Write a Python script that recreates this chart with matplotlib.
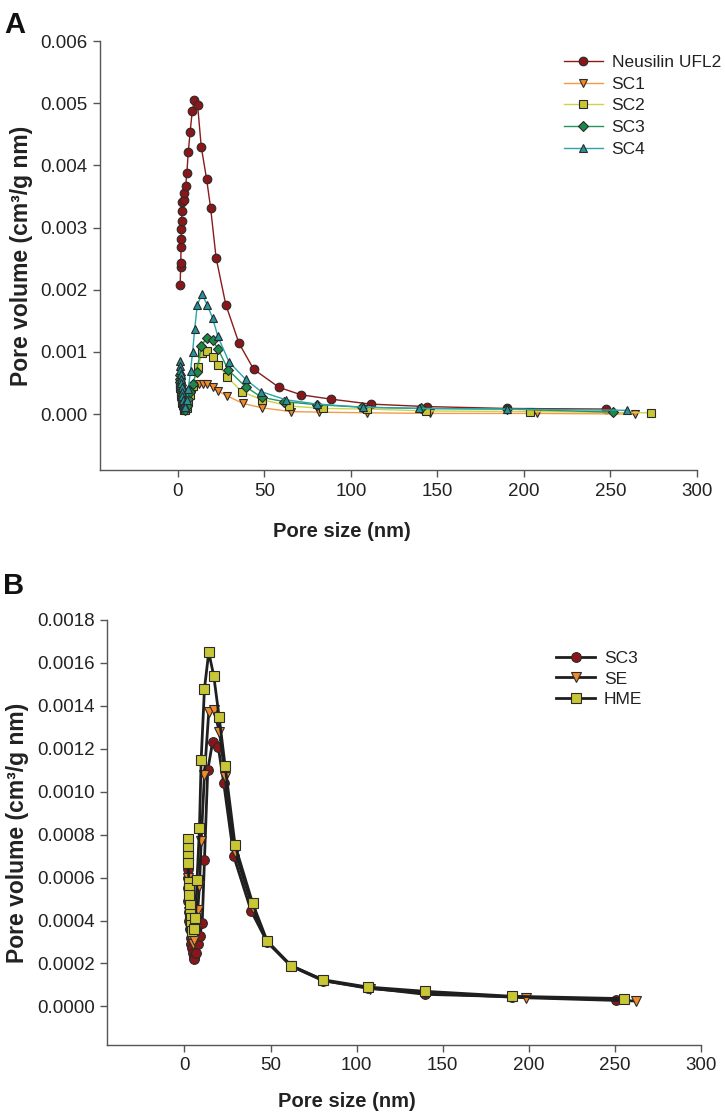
import matplotlib
matplotlib.use("Agg")
import matplotlib.pyplot as plt
from matplotlib.ticker import FormatStrFormatter

plt.rcParams["font.family"] = ["Liberation Sans", "DejaVu Sans"]
plt.rcParams["text.color"] = "#222222"
plt.rcParams["axes.labelcolor"] = "#222222"
plt.rcParams["xtick.color"] = "#555555"
plt.rcParams["ytick.color"] = "#555555"
plt.rcParams["xtick.labelcolor"] = "#222222"
plt.rcParams["ytick.labelcolor"] = "#222222"

# ---- panel A: pore size distributions (nm, cm3/g nm) ----
NEU_X = [1.3, 1.6, 1.7, 1.8, 1.9, 2.0, 2.1, 2.3, 2.5, 3.3, 3.6, 4.5, 5.2, 6.0, 7.1, 8.3,
         9.4, 11.4, 13.5, 16.6, 18.9, 22.1, 27.7, 35.3, 43.8, 58.4, 71.1, 88.4, 111.4,
         143.8, 190.0, 247.4]
NEU_Y = [0.00207, 0.00236, 0.00243, 0.00268, 0.00281, 0.00298, 0.00310, 0.00326, 0.00341,
         0.00345, 0.00356, 0.00367, 0.00388, 0.00421, 0.00454, 0.00487, 0.00505, 0.00497,
         0.00430, 0.00378, 0.00332, 0.00251, 0.00176, 0.00114, 0.00072, 0.00043, 0.00031,
         0.00024, 0.00016, 0.00012, 0.00009, 0.00008]

SC1_X = [1.3, 1.4, 1.5, 1.6, 1.7, 1.9, 2.1, 2.3, 2.6, 2.9, 3.3, 3.8, 4.4, 5.1, 6.0, 7.1,
         8.5, 9.7, 12.0, 14.3, 16.9, 20.1, 23.3, 28.5, 37.7, 48.7, 65.1, 81.7, 109.1, 145.7,
         207.3, 264.2]
SC1_Y = [0.00045, 0.00042, 0.00039, 0.00036, 0.00033, 0.00030, 0.00026, 0.00022, 0.00018,
         0.00014, 0.00010, 0.00007, 0.00006, 0.00009, 0.00017, 0.00027, 0.00037, 0.00045,
         0.00049, 0.00049, 0.00048, 0.00043, 0.00037, 0.00029, 0.00017, 0.00010, 0.00004,
         0.00003, 0.00002, 0.00001, 0.00001, 0.00000]

SC2_X = [1.3, 1.4, 1.5, 1.6, 1.7, 1.9, 2.1, 2.3, 2.6, 2.9, 3.3, 3.8, 4.4, 5.1, 6.0, 7.1,
         8.5, 11.4, 14.1, 17.0, 20.1, 23.3, 28.5, 36.8, 48.7, 64.3, 83.6, 109.4, 143.4,
         203.5, 273.2]
SC2_Y = [0.00050, 0.00046, 0.00042, 0.00038, 0.00034, 0.00030, 0.00026, 0.00022, 0.00018,
         0.00014, 0.00010, 0.00007, 0.00006, 0.00010, 0.00019, 0.00030, 0.00045, 0.00075,
         0.00098, 0.00102, 0.00092, 0.00079, 0.00060, 0.00036, 0.00023, 0.00013, 0.00009,
         0.00008, 0.00005, 0.00004, 0.00002]

SC3_X = [1.3, 1.4, 1.5, 1.6, 1.7, 1.9, 2.1, 2.3, 2.6, 2.9, 3.3, 3.8, 4.4, 5.1, 6.0, 7.1,
         8.5, 10.8, 13.6, 16.6, 20.1, 23.3, 29.1, 39.1, 48.4, 61.3, 80.5, 106.2, 140.3,
         190.3, 251.3]
SC3_Y = [0.00062, 0.00057, 0.00052, 0.00047, 0.00042, 0.00037, 0.00032, 0.00027, 0.00022,
         0.00017, 0.00012, 0.00008, 0.00007, 0.00013, 0.00024, 0.00036, 0.00048, 0.00068,
         0.00109, 0.00123, 0.00119, 0.00104, 0.00071, 0.00044, 0.00027, 0.00020, 0.00015,
         0.00011, 0.00009, 0.00008, 0.00003]

SC4_X = [1.3, 1.4, 1.5, 1.6, 1.7, 1.9, 2.1, 2.3, 2.6, 2.9, 3.3, 3.8, 4.4, 5.1, 6.0, 7.3,
         8.5, 9.7, 11.2, 13.9, 16.9, 20.1, 23.1, 29.5, 39.1, 48.2, 62.3, 80.5, 107.1, 139.5,
         190.0, 259.7]
SC4_Y = [0.00085, 0.00078, 0.00071, 0.00064, 0.00057, 0.00050, 0.00043, 0.00036, 0.00029,
         0.00022, 0.00016, 0.00011, 0.00012, 0.00022, 0.00040, 0.00069, 0.00099, 0.00136,
         0.00175, 0.00193, 0.00176, 0.00154, 0.00125, 0.00084, 0.00056, 0.00036, 0.00023,
         0.00016, 0.00011, 0.00009, 0.00008, 0.00006]

# ---- panel B ----
B_SC3_X = [1.9, 2.0, 2.1, 2.3, 2.6, 2.9, 3.2, 3.5, 3.9, 4.5, 4.8, 5.4, 5.8, 6.8, 8.0, 8.9,
           10.3, 11.6, 13.5, 16.3, 19.6, 22.8, 28.6, 38.7, 48.0, 61.9, 80.5, 106.4, 139.9,
           190.2, 250.7]
B_SC3_Y = [0.00064, 0.00060, 0.00055, 0.00049, 0.00044, 0.00040, 0.00036, 0.00032, 0.00029,
           0.00027, 0.00025, 0.00023, 0.00022, 0.00025, 0.00029, 0.00033, 0.00039, 0.00068,
           0.00110, 0.00123, 0.00121, 0.00104, 0.00070, 0.000445, 0.00030, 0.00019, 0.00012,
           0.000087, 0.000056, 0.000045, 0.000031]

SE_X = [2.0, 2.1, 2.2, 2.4, 2.6, 2.8, 3.0, 3.3, 3.7, 4.2, 4.8, 5.6, 6.6, 7.7, 8.7, 9.7,
        11.6, 14.1, 17.0, 20.3, 23.6, 29.4, 39.6, 48.0, 61.9, 80.5, 107.5, 139.9, 198.3, 262.2]
SE_Y = [0.00072, 0.00066, 0.00060, 0.00054, 0.00048, 0.00044, 0.00040, 0.00036, 0.00033,
        0.00031, 0.00029, 0.00031, 0.00036, 0.00045, 0.00056, 0.00077, 0.00108, 0.00137,
        0.00138, 0.00128, 0.00107, 0.00072, 0.00046, 0.00030, 0.000187, 0.00012, 0.000083,
        0.000062, 0.00004, 0.000025]

HME_X = [2.0, 2.1, 2.2, 2.3, 2.5, 2.6, 2.8, 3.0, 3.3, 3.6, 4.0, 4.6, 5.5, 6.4, 7.3, 8.7,
         9.7, 11.6, 14.1, 17.0, 20.1, 23.6, 29.4, 39.6, 48.0, 61.9, 80.5, 106.4, 139.9,
         190.2, 255.5]
HME_Y = [0.00078, 0.00074, 0.00070, 0.00067, 0.00058, 0.00055, 0.00052, 0.00047, 0.00043,
         0.00041, 0.00038, 0.00035, 0.00036, 0.00041, 0.00059, 0.00083, 0.00115, 0.00148,
         0.00165, 0.00154, 0.00135, 0.00112, 0.00075, 0.00048, 0.000305, 0.00019, 0.000124,
         0.00009, 0.00007, 0.000047, 0.000036]

RED, ORANGE, OLIVE, GREEN, TEAL = "#8a1619", "#f28a2a", "#c8c634", "#1b8a48", "#21959b"
EDGE = "#2a2a2a"
YLABEL = "Pore volume (cm³/g nm)"


def style_axes(ax, ymin, ymax, ystep, fmt):
    ax.set_xlim(-45, 300)
    ax.set_ylim(ymin, ymax)
    ax.set_xticks(range(0, 301, 50))
    ax.set_yticks([i * ystep for i in range(int(round(ymax / ystep)) + 1)])
    ax.yaxis.set_major_formatter(FormatStrFormatter(fmt))
    for s in ("top", "right"):
        ax.spines[s].set_visible(False)
    for s in ("left", "bottom"):
        ax.spines[s].set_color("#555555")
        ax.spines[s].set_linewidth(1.0)
    ax.tick_params(direction="out", length=5, width=1, labelsize=13.5, pad=4)
    ax.set_xlabel("Pore size (nm)", fontsize=14.5, fontweight="bold")
    ax.set_ylabel(YLABEL, fontsize=16.5, fontweight="bold")


fig = plt.figure(figsize=(7.25, 11.15), dpi=100)

# panel A
axA = fig.add_axes([100 / 725, 1 - 470 / 1115, 597 / 725, 429 / 1115])
series_a = [
    ("Neusilin UFL2", NEU_X, NEU_Y, "o", RED, "#8b1a1a"),
    ("SC1", SC1_X, SC1_Y, "v", ORANGE, "#f39a4b"),
    ("SC2", SC2_X, SC2_Y, "s", OLIVE, "#cfd24c"),
    ("SC3", SC3_X, SC3_Y, "D", GREEN, "#24965c"),
    ("SC4", SC4_X, SC4_Y, "^", TEAL, "#2ba4ac"),
]
for name, xs, ys, mk, mc, lc in series_a:
    ms = 6.2 if mk != "D" else 5.4
    axA.plot(xs, ys, color=lc, lw=1.0, marker=mk, ms=ms, mfc=mc, mec=EDGE, mew=0.8,
             label=name)
style_axes(axA, -0.0009, 0.006, 0.001, "%.3f")
axA.xaxis.set_label_coords(0.405, -0.121)
axA.yaxis.set_label_coords(-0.112, 0.5)
axA.legend(loc="upper left", bbox_to_anchor=(0.777, 0.967), frameon=False, fontsize=12.5,
           borderaxespad=0, borderpad=0, handlelength=2.25, handletextpad=0.5,
           labelspacing=0.37)
fig.text(0.006, 0.978, "A", fontsize=21, fontweight="bold", va="center", ha="left",
         color="#111111")

# panel B
axB = fig.add_axes([107 / 725, 1 - 1045 / 1115, 594 / 725, 425 / 1115])
series_b = [
    ("SC3", B_SC3_X, B_SC3_Y, "o", RED),
    ("SE", SE_X, SE_Y, "v", ORANGE),
    ("HME", HME_X, HME_Y, "s", OLIVE),
]
for name, xs, ys, mk, mc in series_b:
    axB.plot(xs, ys, color="#1f1f1f", lw=2.0, marker=mk, ms=7.0, mfc=mc, mec=EDGE,
             mew=0.8, label=name)
style_axes(axB, -0.00018, 0.0018, 0.0002, "%.4f")
axB.xaxis.set_label_coords(0.404, -0.111)
axB.yaxis.set_label_coords(-0.131, 0.5)
axB.legend(loc="upper left", bbox_to_anchor=(0.756, 0.927), frameon=False, fontsize=12.5,
           borderaxespad=0, borderpad=0, handlelength=2.25, handletextpad=0.5,
           labelspacing=0.3)
fig.text(0.004, 0.474, "B", fontsize=21, fontweight="bold", va="center", ha="left",
         color="#111111")

fig.savefig("out.png", dpi=100)
